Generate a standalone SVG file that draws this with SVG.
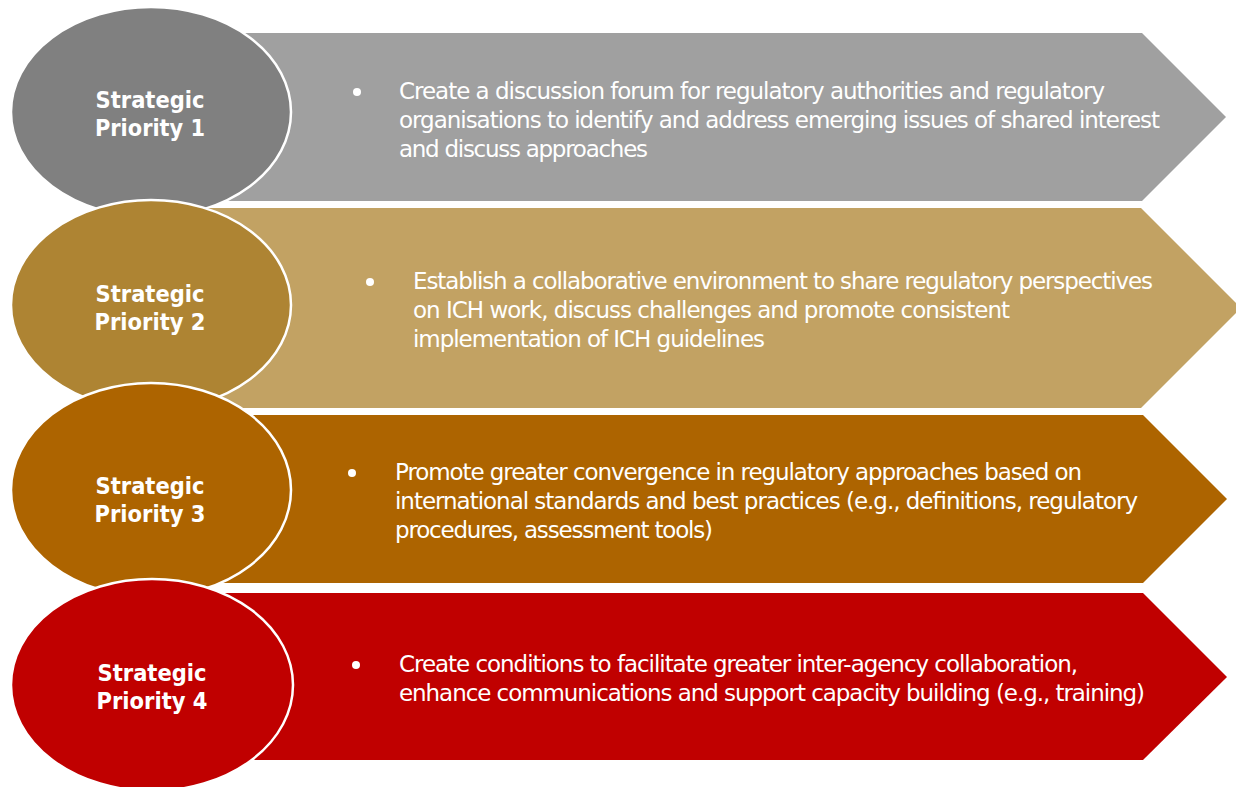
<svg xmlns="http://www.w3.org/2000/svg" width="1236" height="787" viewBox="0 0 1236 787">
  <style>
    .body { font-family: "DejaVu Sans", Verdana, sans-serif; font-size: 23px; fill: #ffffff; }
    .lbl { font-family: "DejaVu Sans", Verdana, sans-serif; font-size: 23px; font-weight: bold; fill: #ffffff; text-anchor: middle; }
    .ell { stroke: #ffffff; stroke-width: 2.5; }
  </style>
  <rect width="1236" height="787" fill="#ffffff"/>

  <g id="row1-arrow">
    <polygon points="150,33 1142,33 1226,117 1142,201 150,201" fill="#a0a0a0"/>
    <circle cx="357" cy="92" r="4" fill="#ffffff"/>
    <text class="body" lengthAdjust="spacingAndGlyphs"><tspan x="399" y="99" textLength="706">Create a discussion forum for regulatory authorities and regulatory</tspan></text>
    <text class="body" lengthAdjust="spacingAndGlyphs"><tspan x="399" y="128" textLength="761">organisations to identify and address emerging issues of shared interest</tspan></text>
    <text class="body" lengthAdjust="spacingAndGlyphs"><tspan x="399" y="157" textLength="249">and discuss approaches</tspan></text>
  </g>
  <g id="node1">
    <ellipse class="ell" cx="151" cy="112" rx="140" ry="105" fill="#808080"/>
    <text class="lbl" x="150" y="108" textLength="109" lengthAdjust="spacingAndGlyphs">Strategic</text>
    <text class="lbl" x="150" y="136" textLength="110" lengthAdjust="spacingAndGlyphs">Priority 1</text>
  </g>

  <g id="row2-arrow">
    <polygon points="150,208 1141,208 1241,308 1141,408 150,408" fill="#c2a263"/>
    <circle cx="370" cy="282" r="4" fill="#ffffff"/>
    <text class="body" lengthAdjust="spacingAndGlyphs"><tspan x="413" y="289" textLength="740">Establish a collaborative environment to share regulatory perspectives</tspan></text>
    <text class="body" lengthAdjust="spacingAndGlyphs"><tspan x="413" y="318" textLength="597">on ICH work, discuss challenges and promote consistent</tspan></text>
    <text class="body" lengthAdjust="spacingAndGlyphs"><tspan x="413" y="347" textLength="352">implementation of ICH guidelines</tspan></text>
  </g>
  <g id="node2">
    <ellipse class="ell" cx="151" cy="305" rx="140" ry="105" fill="#ae8433"/>
    <text class="lbl" x="150" y="302" textLength="109" lengthAdjust="spacingAndGlyphs">Strategic</text>
    <text class="lbl" x="150" y="330" textLength="111" lengthAdjust="spacingAndGlyphs">Priority 2</text>
  </g>

  <g id="row3-arrow">
    <polygon points="150,415 1143,415 1227,499 1143,583 150,583" fill="#ad6400"/>
    <circle cx="352" cy="473" r="4" fill="#ffffff"/>
    <text class="body" lengthAdjust="spacingAndGlyphs"><tspan x="395" y="480" textLength="687">Promote greater convergence in regulatory approaches based on</tspan></text>
    <text class="body" lengthAdjust="spacingAndGlyphs"><tspan x="395" y="509" textLength="743">international standards and best practices (e.g., definitions, regulatory</tspan></text>
    <text class="body" lengthAdjust="spacingAndGlyphs"><tspan x="395" y="538" textLength="318">procedures, assessment tools)</tspan></text>
  </g>
  <g id="node3">
    <ellipse class="ell" cx="151" cy="490" rx="140" ry="107" fill="#ad6400"/>
    <text class="lbl" x="150" y="494" textLength="109" lengthAdjust="spacingAndGlyphs">Strategic</text>
    <text class="lbl" x="150" y="522" textLength="111" lengthAdjust="spacingAndGlyphs">Priority 3</text>
  </g>

  <g id="row4-arrow">
    <polygon points="150,593 1143,593 1227,677 1143,760 150,760" fill="#c00000"/>
    <circle cx="356" cy="665" r="4" fill="#ffffff"/>
    <text class="body" lengthAdjust="spacingAndGlyphs"><tspan x="399" y="672" textLength="679">Create conditions to facilitate greater inter-agency collaboration,</tspan></text>
    <text class="body" lengthAdjust="spacingAndGlyphs"><tspan x="399" y="701" textLength="746">enhance communications and support capacity building (e.g., training)</tspan></text>
  </g>
  <g id="node4">
    <ellipse class="ell" cx="152" cy="685" rx="141" ry="106" fill="#c00000"/>
    <text class="lbl" x="152" y="681" textLength="109" lengthAdjust="spacingAndGlyphs">Strategic</text>
    <text class="lbl" x="152" y="709" textLength="111" lengthAdjust="spacingAndGlyphs">Priority 4</text>
  </g>

  <g id="connectors"></g>
</svg>
